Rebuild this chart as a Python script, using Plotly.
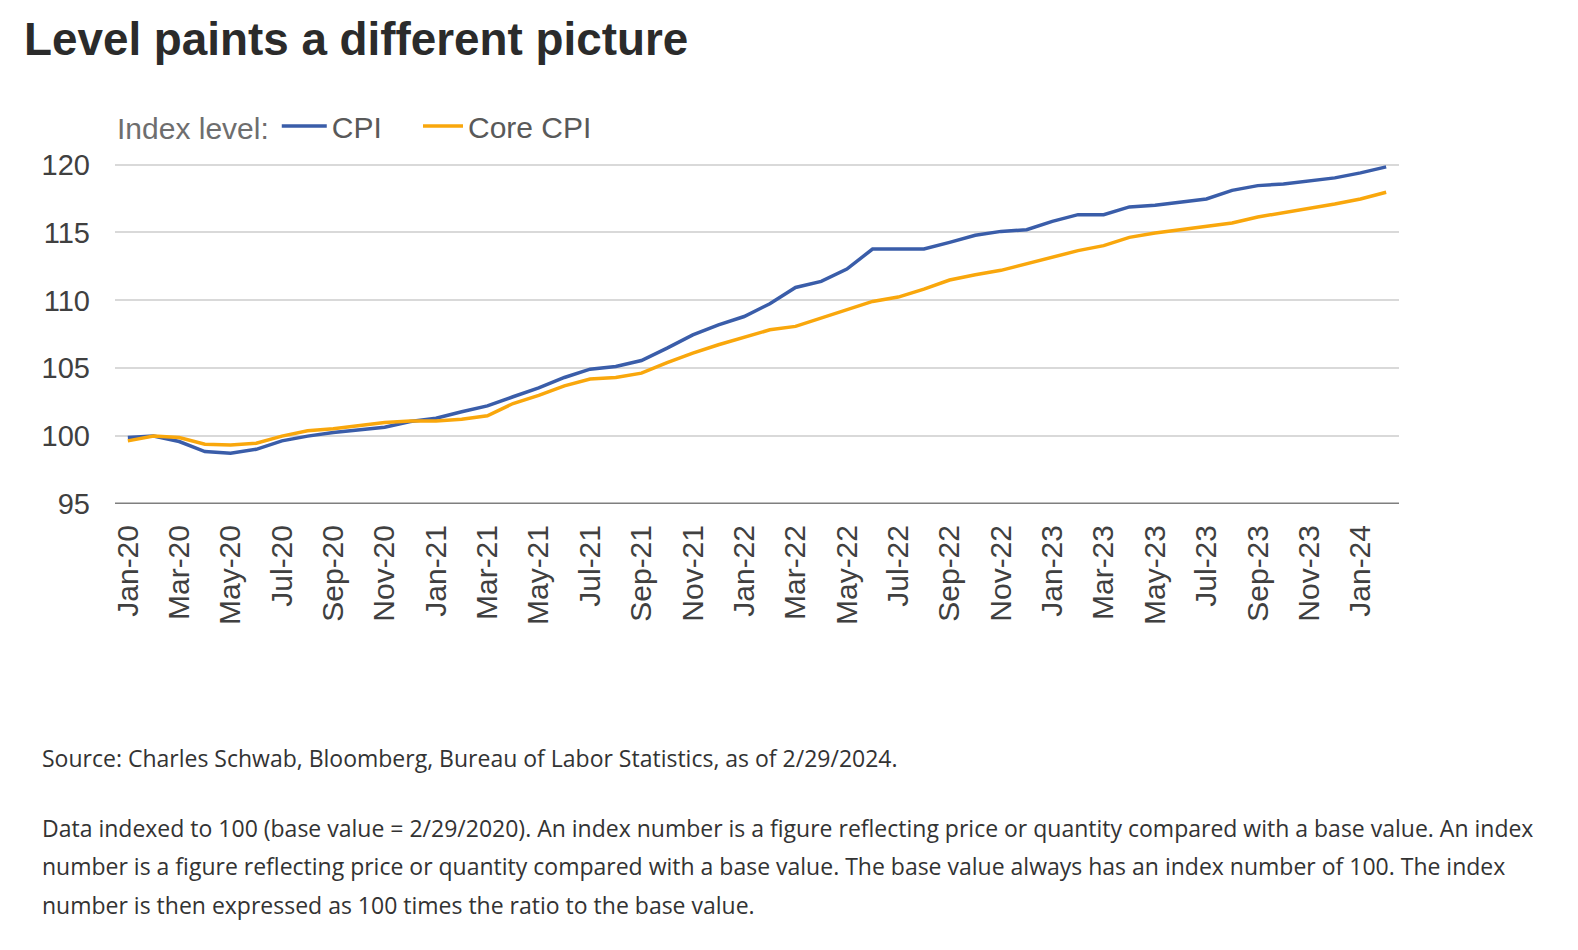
import plotly.graph_objects as go

months = ["Jan-20","Feb-20","Mar-20","Apr-20","May-20","Jun-20","Jul-20","Aug-20","Sep-20","Oct-20","Nov-20","Dec-20",
          "Jan-21","Feb-21","Mar-21","Apr-21","May-21","Jun-21","Jul-21","Aug-21","Sep-21","Oct-21","Nov-21","Dec-21",
          "Jan-22","Feb-22","Mar-22","Apr-22","May-22","Jun-22","Jul-22","Aug-22","Sep-22","Oct-22","Nov-22","Dec-22",
          "Jan-23","Feb-23","Mar-23","Apr-23","May-23","Jun-23","Jul-23","Aug-23","Sep-23","Oct-23","Nov-23","Dec-23",
          "Jan-24","Feb-24"]

cpi = [99.89, 100.0, 99.6, 98.86, 98.74, 99.03, 99.65, 100.0, 100.26, 100.46, 100.66, 101.07,
       101.32, 101.8, 102.23, 102.9, 103.55, 104.32, 104.93, 105.13, 105.57, 106.48, 107.46, 108.2,
       108.81, 109.75, 110.95, 111.4, 112.3, 113.78, 113.78, 113.78, 114.27, 114.79, 115.08, 115.2,
       115.82, 116.31, 116.31, 116.88, 117.0, 117.25, 117.47, 118.1, 118.45, 118.57, 118.77, 119.02,
       119.39, 119.83]

core_cpi = [99.65, 100.0, 99.9, 99.4, 99.35, 99.47, 100.0, 100.4, 100.55, 100.75, 101.0, 101.12,
            101.12, 101.25, 101.5, 102.4, 103.0, 103.7, 104.2, 104.32, 104.64, 105.42, 106.11, 106.73,
            107.29, 107.83, 108.08, 108.7, 109.3, 109.92, 110.24, 110.83, 111.5, 111.89, 112.21, 112.7,
            113.19, 113.66, 114.03, 114.64, 114.96, 115.2, 115.45, 115.7, 116.14, 116.44, 116.76, 117.1,
            117.47, 117.96]

tick_labels = months[::2]
y_ticks = [95, 100, 105, 110, 115, 120]

W, H = 1578, 950
L, R, T, B = 115, 179, 151, 446
PW, PH = W - L - R, H - T - B

def px_x(x):
    return (x - L) / PW

def px_y(y):
    return (H - B - y) / PH

AX_FONT = "Liberation Sans, Arial, sans-serif"
TXT_FONT = "Open Sans, sans-serif"

fig = go.Figure()
fig.add_trace(go.Scatter(x=months, y=cpi, mode="lines", name="CPI", legend="legend",
                         line=dict(color="#3A5DA9", width=3.5)))
fig.add_trace(go.Scatter(x=months, y=core_cpi, mode="lines", name="Core CPI", legend="legend2",
                         line=dict(color="#F9A70C", width=3.5)))

fig.update_layout(
    width=W, height=H,
    margin=dict(l=L, r=R, t=T, b=B, pad=0),
    paper_bgcolor="white", plot_bgcolor="white",
    font=dict(family=AX_FONT, color="#404040"),
    showlegend=True,
    legend=dict(orientation="h", x=px_x(115), xanchor="left", y=px_y(126), yanchor="middle",
                title=dict(text="Index level:", side="left",
                           font=dict(size=30, color="#6e6e6e", family=AX_FONT)),
                font=dict(size=30, color="#595959", family=AX_FONT),
                itemwidth=45, bgcolor="rgba(0,0,0,0)"),
    legend2=dict(orientation="h", x=px_x(418), xanchor="left", y=px_y(126), yanchor="middle",
                 font=dict(size=30, color="#595959", family=AX_FONT),
                 itemwidth=40, bgcolor="rgba(0,0,0,0)"),
    xaxis=dict(type="category", categoryorder="array", categoryarray=months,
               tickmode="array", tickvals=tick_labels, ticktext=tick_labels,
               tickangle=-90, tickfont=dict(size=30, color="#404040"),
               showgrid=False, showline=False, zeroline=False, ticks="",
               ticklabelstandoff=14, range=[-0.5, len(months) - 0.5]),
    yaxis=dict(range=[95, 121], tickmode="array", tickvals=y_ticks,
               tickfont=dict(size=29, color="#404040"),
               showgrid=True, gridcolor="#d9d9d9", gridwidth=2,
               zeroline=False, showline=False, ticks="", ticklabelstandoff=24),
    shapes=[dict(type="line", xref="paper", yref="y", x0=0, x1=1, y0=95, y1=95,
                 line=dict(color="#7f7f7f", width=3), layer="above")],
    annotations=[
        dict(text="<b>Level paints a different picture</b>", xref="paper", yref="paper",
             x=px_x(22), y=px_y(40), xanchor="left", yanchor="middle", showarrow=False,
             font=dict(size=45.8, color="#2b2b2b", family=AX_FONT)),
        dict(text="Source: Charles Schwab, Bloomberg, Bureau of Labor Statistics, as of 2/29/2024.",
             xref="paper", yref="paper", x=px_x(40), y=px_y(758), xanchor="left", yanchor="middle",
             showarrow=False, font=dict(size=23, color="#333333", family=TXT_FONT)),
        dict(text="Data indexed to 100 (base value = 2/29/2020). An index number is a figure reflecting price or quantity compared with a base value. An index",
             xref="paper", yref="paper", x=px_x(40), y=px_y(828), xanchor="left", yanchor="middle",
             showarrow=False, font=dict(size=23, color="#333333", family=TXT_FONT)),
        dict(text="number is a figure reflecting price or quantity compared with a base value. The base value always has an index number of 100. The index",
             xref="paper", yref="paper", x=px_x(40), y=px_y(866), xanchor="left", yanchor="middle",
             showarrow=False, font=dict(size=23, color="#333333", family=TXT_FONT)),
        dict(text="number is then expressed as 100 times the ratio to the base value.",
             xref="paper", yref="paper", x=px_x(40), y=px_y(905), xanchor="left", yanchor="middle",
             showarrow=False, font=dict(size=23, color="#333333", family=TXT_FONT)),
    ],
)

fig.write_html("out.html")
